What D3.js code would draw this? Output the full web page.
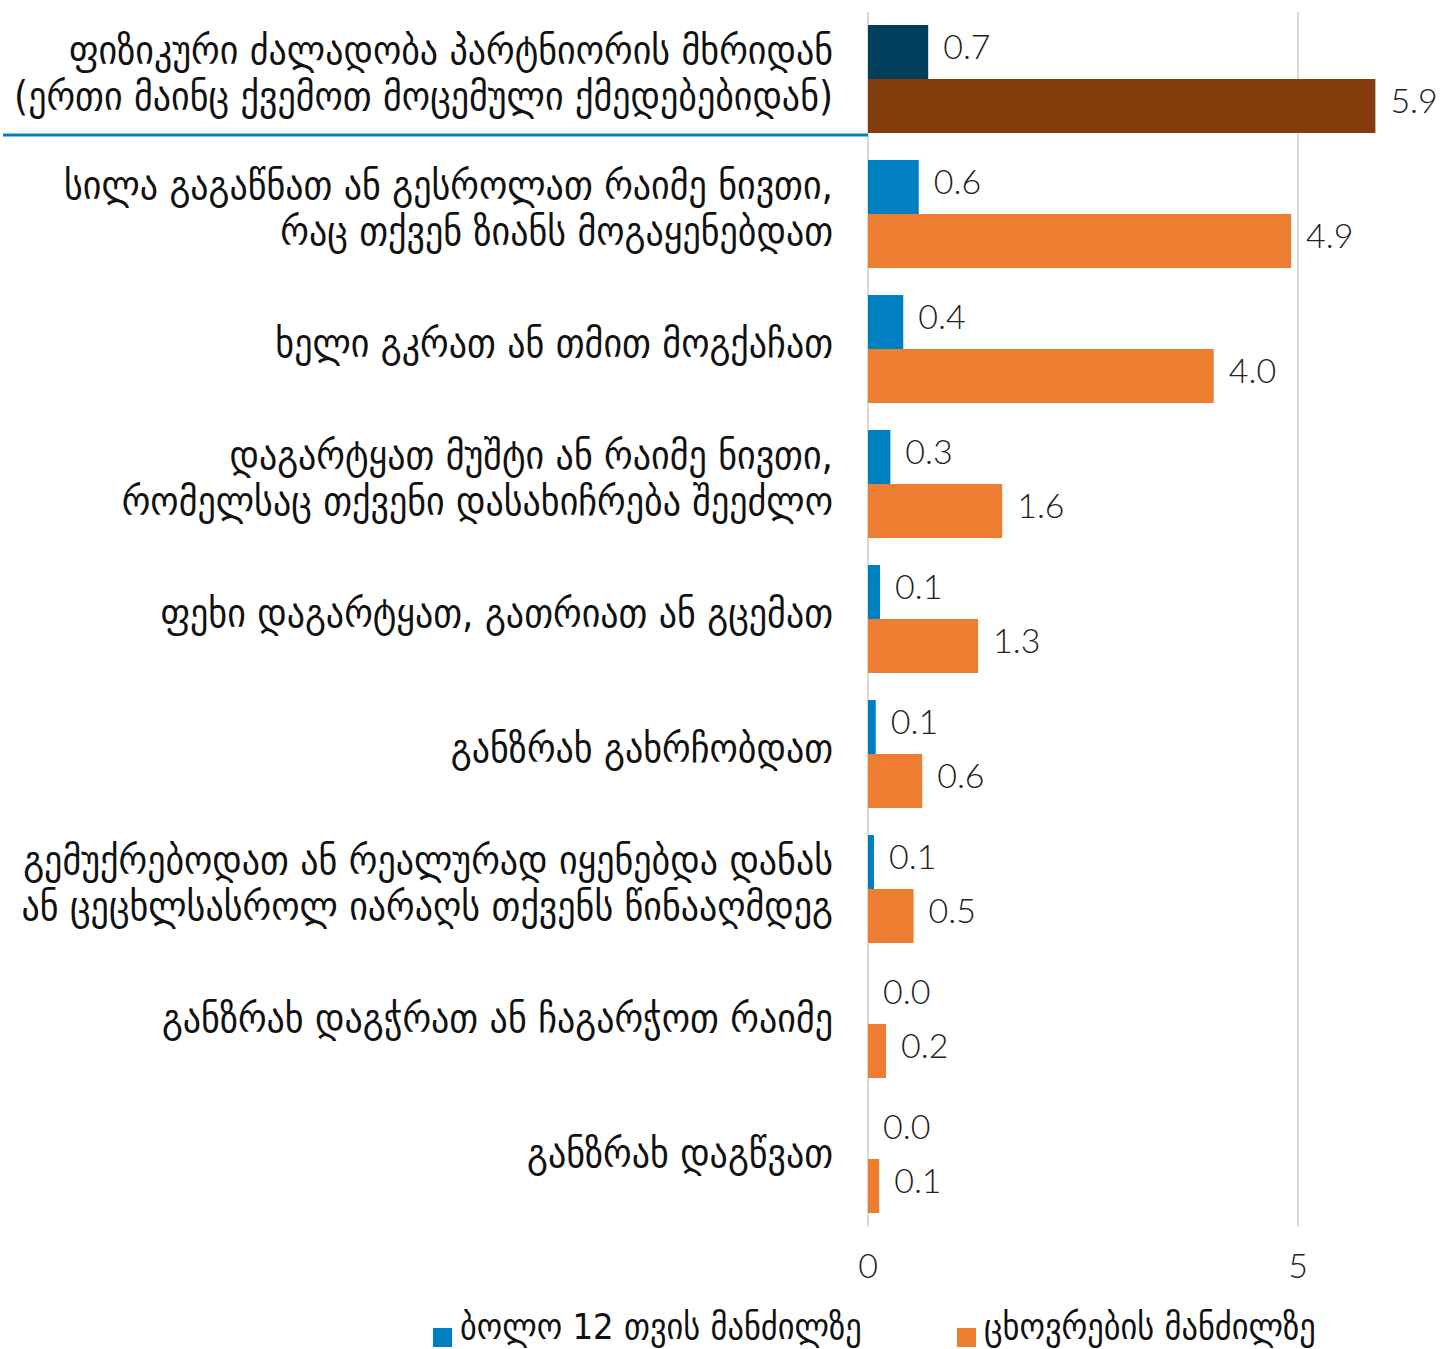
<!DOCTYPE html>
<html>
<head>
<meta charset="utf-8">
<script src="https://cdn.jsdelivr.net/npm/d3@7"></script>
<style>
  html, body { margin: 0; padding: 0; background: #fff; }
  #chart { width: 1443px; height: 1349px; }
  .cat { font-family: "DejaVu Sans Condensed", "DejaVu Sans", sans-serif; font-size: 40px; fill: #111; }
  .legend-label { font-family: "DejaVu Sans Condensed", "DejaVu Sans", sans-serif; font-size: 36px; fill: #111; }
  .val, .tick-label { font-family: Lato, "Open Sans", sans-serif; font-weight: 300; font-size: 34px; fill: #222; }
</style>
</head>
<body>
<div id="chart"></div>
<script>
'use strict';

// categories (label lines)
var categories = [
  ["ფიზიკური ძალადობა პარტნიორის მხრიდან", "(ერთი მაინც ქვემოთ მოცემული ქმედებებიდან)"],
  ["სილა გაგაწნათ ან გესროლათ რაიმე ნივთი,", "რაც თქვენ ზიანს მოგაყენებდათ"],
  ["ხელი გკრათ ან თმით მოგქაჩათ"],
  ["დაგარტყათ მუშტი ან რაიმე ნივთი,", "რომელსაც თქვენი დასახიჩრება შეეძლო"],
  ["ფეხი დაგარტყათ, გათრიათ ან გცემათ"],
  ["განზრახ გახრჩობდათ"],
  ["გემუქრებოდათ ან რეალურად იყენებდა დანას", "ან ცეცხლსასროლ იარაღს თქვენს წინააღმდეგ"],
  ["განზრახ დაგჭრათ ან ჩაგარჭოთ რაიმე"],
  ["განზრახ დაგწვათ"]
];

var seriesNames = ["ბოლო 12 თვის მანძილზე", "ცხოვრების მანძილზე"];
var last12 = [0.70, 0.59, 0.41, 0.26, 0.14, 0.09, 0.07, 0.0, 0.0];
var lifetime = [5.90, 4.92, 4.02, 1.56, 1.28, 0.63, 0.53, 0.21, 0.13];
var xTicks = [0, 5];

var colors = ["#0080c0", "#ed7d31"];
var firstColors = ["#023f5c", "#843c0c"];

var W = 1443, H = 1349;
var svg = d3.select("#chart").append("svg")
  .attr("width", W).attr("height", H);

var x = d3.scaleLinear().domain([0, 6]).range([868, 868 + 6 * 86]);
var y = d3.scaleBand()
  .domain(d3.range(categories.length))
  .range([11.5, 1226.5])
  .paddingInner(0.2).paddingOuter(0.1);
var ySub = d3.scaleBand().domain([0, 1]).range([0, y.bandwidth()]);

// gridlines
svg.append("g").selectAll("line")
  .data(xTicks).enter().append("line")
  .attr("x1", function(d) { return x(d); })
  .attr("x2", function(d) { return x(d); })
  .attr("y1", 12).attr("y2", 1226)
  .attr("stroke", "#d9d9d9").attr("stroke-width", 2);

// tick labels
svg.append("g").selectAll("text")
  .data(xTicks).enter().append("text")
  .attr("class", "tick-label")
  .attr("x", function(d) { return x(d); })
  .attr("y", 1266)
  .attr("dy", "0.35em")
  .attr("text-anchor", "middle")
  .text(function(d) { return d; });

var rows = categories.map(function(c, i) {
  return { i: i, lines: c, vals: [last12[i], lifetime[i]] };
});

var group = svg.append("g").selectAll("g")
  .data(rows).enter().append("g")
  .attr("transform", function(d) { return "translate(0," + y(d.i) + ")"; });

group.selectAll("rect")
  .data(function(d) { return d.vals.map(function(v, k) { return { v: v, k: k, i: d.i }; }); })
  .enter().append("rect")
  .attr("x", x(0))
  .attr("y", function(d) { return ySub(d.k); })
  .attr("width", function(d) { return x(d.v) - x(0); })
  .attr("height", ySub.bandwidth())
  .attr("fill", function(d) { return d.i === 0 ? firstColors[d.k] : colors[d.k]; });

group.selectAll("text.val")
  .data(function(d) { return d.vals.map(function(v, k) { return { v: v, k: k }; }); })
  .enter().append("text")
  .attr("class", "val")
  .attr("x", function(d) { return x(d.v) + 15; })
  .attr("y", function(d) { return ySub(d.k) + ySub.bandwidth() / 2 - 5; })
  .attr("dy", "0.35em")
  .text(function(d) { return d3.format(".1f")(d.v); });

// category labels
var lineH = 46;
group.append("text")
  .attr("class", "cat")
  .attr("text-anchor", "end")
  .each(function(d) {
    var t = d3.select(this);
    var n = d.lines.length;
    d.lines.forEach(function(line, j) {
      t.append("tspan")
        .attr("x", 833)
        .attr("y", y.bandwidth() / 2 - 4 + (j - (n - 1) / 2) * lineH)
        .attr("dy", "0.3em")
        .text(line);
    });
  });

// separator under the first category
svg.append("line")
  .attr("x1", 3).attr("x2", x(0))
  .attr("y1", y(0) + y.bandwidth() + 2).attr("y2", y(0) + y.bandwidth() + 2)
  .attr("stroke", "#0080c0").attr("stroke-width", 3);

// legend
var legendX = [433, 957];
var legend = svg.append("g").selectAll("g")
  .data(seriesNames).enter().append("g")
  .attr("transform", function(d, k) { return "translate(" + legendX[k] + ",1328)"; });
legend.append("rect")
  .attr("width", 19).attr("height", 19)
  .attr("fill", function(d, k) { return colors[k]; });
legend.append("text")
  .attr("class", "legend-label")
  .attr("x", 27).attr("y", 11)
  .text(function(d) { return d; });
</script>
</body>
</html>
